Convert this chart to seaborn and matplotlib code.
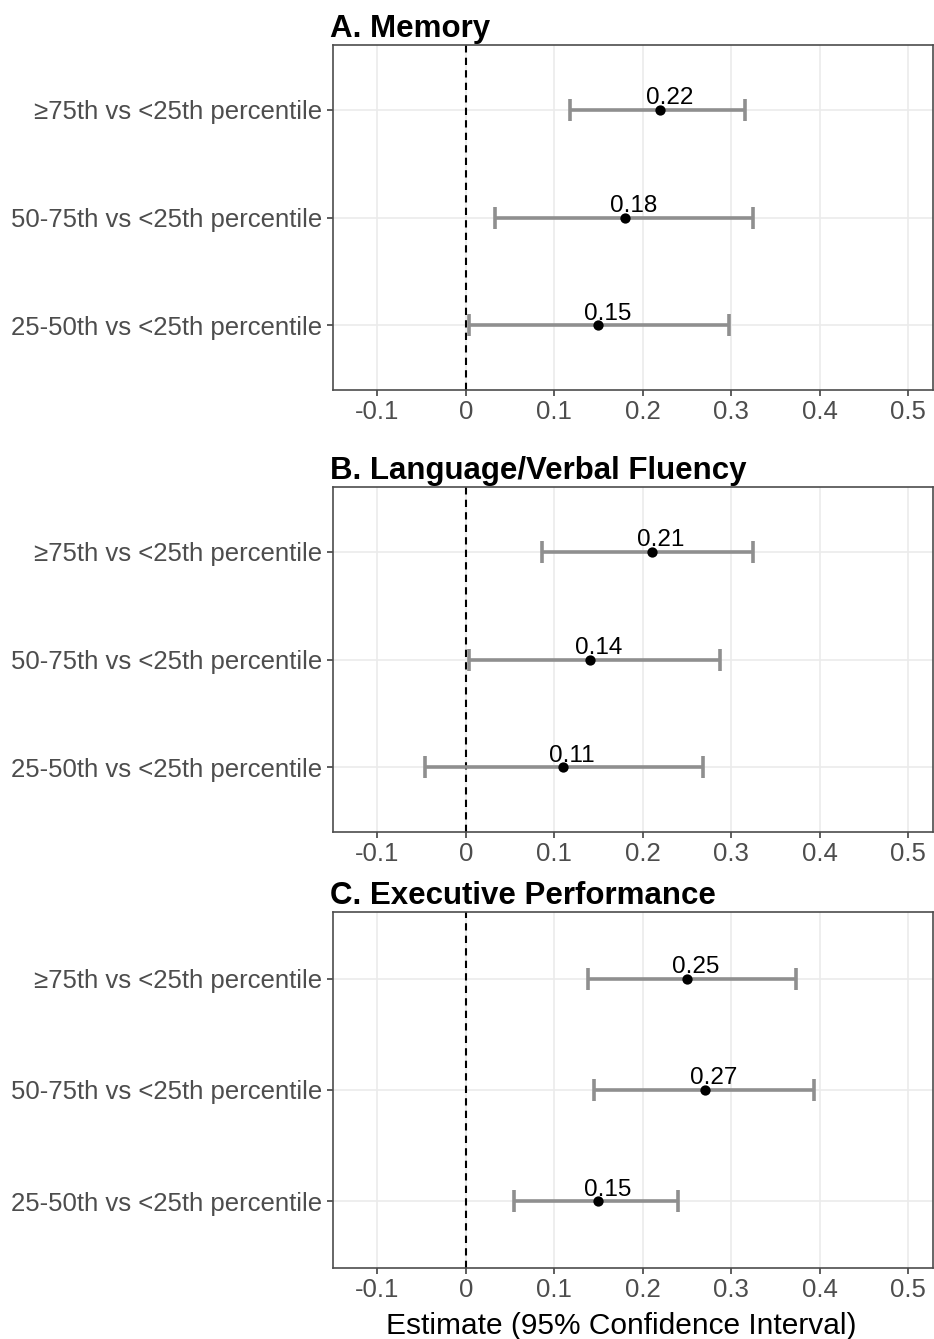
# Forest plot: estimates with 95% CI by percentile group, three cognitive domains
import numpy as np
import matplotlib
matplotlib.use("Agg")
import matplotlib.pyplot as plt
import seaborn as sns

# Données (de haut en bas)
groupes = ["≥75th vs <25th percentile",
           "50-75th vs <25th percentile",
           "25-50th vs <25th percentile"]
titres = ["A. Memory", "B. Language/Verbal Fluency", "C. Executive Performance"]

est_memory = [0.22, 0.18, 0.15]
low_memory = [0.118, 0.033, 0.004]
high_memory = [0.315, 0.325, 0.298]

est_language = [0.21, 0.14, 0.11]
low_language = [0.086, 0.004, -0.046]
high_language = [0.325, 0.287, 0.268]

est_exec = [0.25, 0.27, 0.15]
low_exec = [0.138, 0.145, 0.054]
high_exec = [0.373, 0.394, 0.240]

x_ticks = [-0.1, 0, 0.1, 0.2, 0.3, 0.4, 0.5]
x_tick_labels = ["-0.1", "0", "0.1", "0.2", "0.3", "0.4", "0.5"]

sns.set_theme(style="white")
plt.rcParams['font.family'] = ['Liberation Sans', 'DejaVu Sans']

W, H = 934, 1339
fig = plt.figure(figsize=(W / 100, H / 100), dpi=100)

# (haut, bas) de chaque panneau en pixels
boites = [(45, 390), (487, 832), (912, 1268)]
left_px, right_px = 333, 933

panneaux = [
    (est_memory, low_memory, high_memory),
    (est_language, low_language, high_language),
    (est_exec, low_exec, high_exec),
]

for i, ((top, bot), (est, lo, hi), titre) in enumerate(zip(boites, panneaux, titres)):
    ax = fig.add_axes([left_px / W, 1 - bot / H, (right_px - left_px) / W, (bot - top) / H])
    est = np.array(est)
    lo = np.array(lo)
    hi = np.array(hi)
    ypos = np.arange(len(groupes))[::-1] + 1  # premier groupe en haut

    # grille
    for xt in x_ticks:
        ax.axvline(xt, color="#ebebeb", lw=1.2, zorder=0)
    for yp in ypos:
        ax.axhline(yp, color="#ebebeb", lw=1.2, zorder=0)

    ax.axvline(0, color="black", lw=1.5, ls=(0, (3.5, 2.5)), zorder=1)

    ax.errorbar(est, ypos, xerr=[est - lo, hi - est], fmt="none",
                ecolor="#8f8f8f", elinewidth=2.6, capsize=8, capthick=2.6, zorder=2)
    sns.scatterplot(x=est, y=ypos, ax=ax, color="black", s=55,
                    edgecolor="black", linewidth=0, zorder=3)

    for e, yp in zip(est, ypos):
        ax.annotate(f"{e:.2f}", (e + 0.01, yp), xytext=(0, 0.5), textcoords="offset points",
                    ha="center", va="bottom", fontsize=17.5, color="black")

    ax.set_xlim(-0.15, 0.528)
    ax.set_ylim(0.4, 3.6)
    ax.set_xticks(x_ticks)
    ax.set_xticklabels(x_tick_labels)
    ax.set_yticks(ypos)
    ax.set_yticklabels(groupes)
    ax.tick_params(axis="both", which="major", labelsize=18.5, labelcolor="#4d4d4d",
                   length=4, width=1.1, color="#333333", pad=3.5,
                   bottom=True, left=True)
    for sp in ax.spines.values():
        sp.set_color("#4d4d4d")
        sp.set_linewidth(1.2)
    ax.set_title(titre, loc="left", fontsize=22.5, fontweight="bold", pad=6, x=-0.005,
                 color="black")
    ax.set_ylabel("")
    if i == 2:
        ax.set_xlabel("Estimate (95% Confidence Interval)", fontsize=21.5, color="black")
        ax.xaxis.set_label_coords(0.48, -0.125)
    else:
        ax.set_xlabel("")

fig.savefig("out.png", dpi=100)
